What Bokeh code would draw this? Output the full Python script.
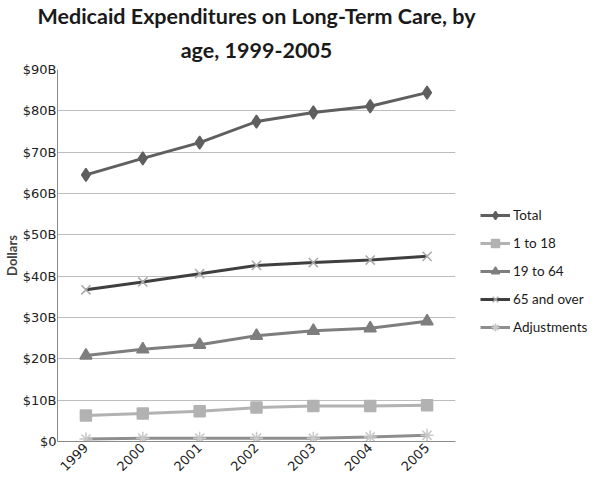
import math
from bokeh.plotting import figure
from bokeh.models import Legend, LegendItem, FixedTicker, FactorRange, Title
from bokeh.embed import file_html
from bokeh.resources import INLINE

years = ["1999", "2000", "2001", "2002", "2003", "2004", "2005"]
total = [64.5, 68.5, 72.3, 77.4, 79.6, 81.1, 84.4]
age_1_18 = [6.3, 6.8, 7.3, 8.2, 8.6, 8.6, 8.8]
age_19_64 = [20.8, 22.3, 23.4, 25.6, 26.8, 27.4, 29.1]
age_65_over = [36.7, 38.6, 40.6, 42.6, 43.3, 43.9, 44.8]
adjustments = [0.6, 0.8, 0.8, 0.8, 0.8, 1.1, 1.5]
y_ticks = [0, 10, 20, 30, 40, 50, 60, 70, 80, 90]
y_tick_labels = ["$0", "$10B", "$20B", "$30B", "$40B", "$50B", "$60B", "$70B", "$80B", "$90B"]
title_lines = ["Medicaid Expenditures on Long-Term Care, by", "age, 1999-2005"]

p = figure(frame_width=398, frame_height=372, x_range=FactorRange(*years), y_range=(0, 90),
           output_backend="svg", toolbar_location=None,
           min_border_left=0, min_border_right=0, min_border_top=0, min_border_bottom=30)

def style_title(t):
    t.text_font = "Lato"
    t.text_font_size = "21.5px"
    t.text_font_style = "bold"
    t.align = "center"
    t.text_color = "#1a1a1a"
    t.offset = 8
    t.standoff = 0

p.title.text = title_lines[0]
style_title(p.title)
p.title.standoff = 0
t2 = Title(text=title_lines[1])
style_title(t2)
t2.standoff = 13
p.add_layout(t2, "above")

p.outline_line_color = None
p.background_fill_color = "white"
p.xgrid.grid_line_color = None
p.ygrid.grid_line_color = "#bdbdbd"
p.ygrid.grid_line_width = 1

p.yaxis.ticker = FixedTicker(ticks=y_ticks)
p.yaxis.major_label_overrides = {t: l for t, l in zip(y_ticks, y_tick_labels)}
p.yaxis.major_label_text_font = "DejaVu Sans"
p.yaxis.major_label_text_font_size = "13px"
p.yaxis.major_label_text_color = "#222222"
p.yaxis.axis_line_color = "#8a8a8a"
p.yaxis.major_tick_line_color = None
p.yaxis.minor_tick_line_color = None
p.yaxis.major_tick_out = 0
p.yaxis.major_tick_in = 0
p.yaxis.major_label_standoff = 1
p.yaxis.axis_label = "Dollars"
p.yaxis.axis_label_text_font = "Lato"
p.yaxis.axis_label_text_font_style = "bold"
p.yaxis.axis_label_text_font_size = "13px"
p.yaxis.axis_label_standoff = 0

p.xaxis.major_label_orientation = math.pi / 4
p.xaxis.major_label_text_font = "DejaVu Sans"
p.xaxis.major_label_text_font_size = "13px"
p.xaxis.major_label_text_color = "#222222"
p.xaxis.axis_line_color = "#8a8a8a"
p.xaxis.major_tick_line_color = None
p.xaxis.minor_tick_line_color = None
p.xaxis.major_tick_out = 0
p.xaxis.major_tick_in = 0
p.xaxis.major_label_standoff = 4

items = []
specs = [
    ("Total", total, "#5f5f5f", "diamond", "#5f5f5f", 13),
    ("1 to 18", age_1_18, "#b2b2b2", "square", "#b2b2b2", 11),
    ("19 to 64", age_19_64, "#7e7e7e", "triangle", "#7e7e7e", 12),
    ("65 and over", age_65_over, "#3f3f3f", "x", "#a8a8a8", 13),
    ("Adjustments", adjustments, "#8e8e8e", "asterisk", "#c8c8c8", 13),
]
for name, vals, lc, mk, mc, sz in specs:
    r1 = p.line(years, vals, line_color=lc, line_width=3)
    r2 = p.scatter(years, vals, marker=mk, size=sz, fill_color=mc, line_color=mc, line_width=1.5)
    items.append(LegendItem(label=name, renderers=[r1, r2]))

legend = Legend(items=items, location=(25, 104), padding=0, spacing=8,
                margin=0, glyph_width=30, glyph_height=20, label_standoff=3,
                label_text_font="Lato", label_text_font_size="13.5px",
                label_text_color="#1a1a1a", border_line_color=None,
                background_fill_alpha=0)
p.add_layout(legend, "right")
p.min_border_right = 128

open("out.html", "w").write(file_html(p, INLINE))
